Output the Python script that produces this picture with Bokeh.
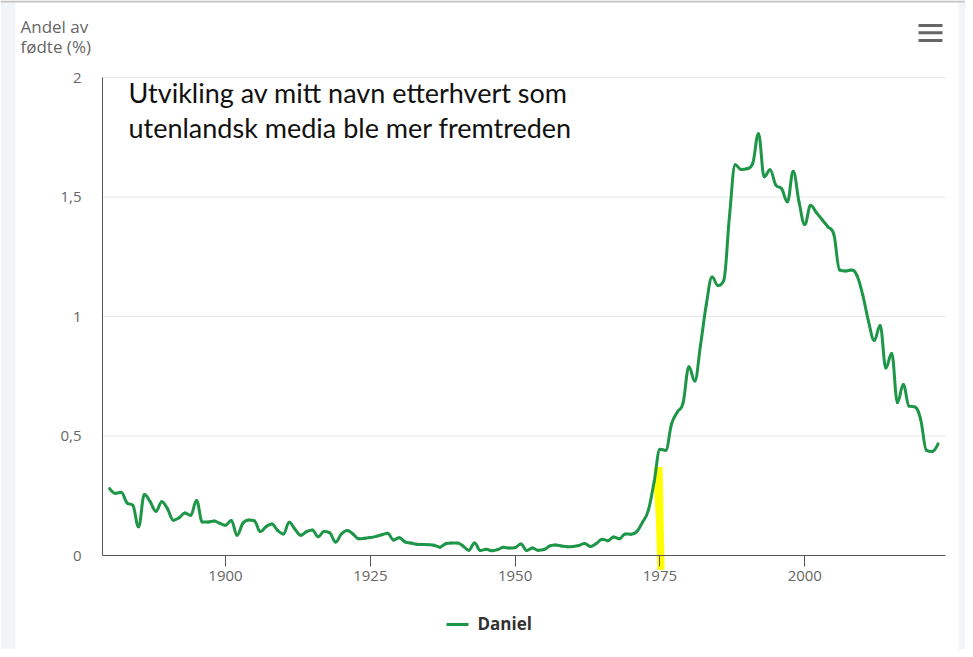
import numpy as np
from bokeh.plotting import figure
from bokeh.models import (FixedTicker, Label, PolyAnnotation, BoxAnnotation, Range1d,
                          LinearAxis)
from bokeh.embed import file_html
from bokeh.resources import INLINE

# ---------------- data ----------------
years = list(range(1880, 2024))
share_daniel = [
    0.28, 0.26, 0.265, 0.22, 0.21, 0.12, 0.255, 0.225, 0.185, 0.225,      # 1880-1889
    0.195, 0.148, 0.158, 0.178, 0.168, 0.23, 0.14, 0.14, 0.144, 0.135,    # 1890-1899
    0.127, 0.146, 0.085, 0.135, 0.149, 0.145, 0.10, 0.12, 0.132, 0.105,   # 1900-1909
    0.09, 0.139, 0.11, 0.085, 0.10, 0.107, 0.078, 0.10, 0.095, 0.056,     # 1910-1919
    0.09, 0.105, 0.09, 0.07, 0.072, 0.075, 0.08, 0.087, 0.093, 0.065,     # 1920-1929
    0.074, 0.057, 0.052, 0.047, 0.046, 0.045, 0.043, 0.035, 0.049, 0.052, # 1930-1939
    0.052, 0.04, 0.022, 0.052, 0.021, 0.026, 0.02, 0.025, 0.034, 0.031,   # 1940-1949
    0.033, 0.048, 0.021, 0.031, 0.022, 0.025, 0.04, 0.044, 0.04, 0.037,   # 1950-1959
    0.038, 0.042, 0.05, 0.038, 0.05, 0.068, 0.062, 0.077, 0.07, 0.09,     # 1960-1969
    0.089, 0.10, 0.14, 0.19, 0.31, 0.445, 0.44, 0.55, 0.60, 0.64,         # 1970-1979
    0.79, 0.73, 0.88, 1.05, 1.165, 1.13, 1.15, 1.42, 1.635, 1.615,        # 1980-1989
    1.618, 1.64, 1.765, 1.585, 1.614, 1.55, 1.535, 1.48, 1.608, 1.48,     # 1990-1999
    1.385, 1.465, 1.435, 1.405, 1.375, 1.345, 1.195, 1.19, 1.195, 1.172,  # 2000-2009
    1.09, 0.98, 0.90, 0.962, 0.785, 0.845, 0.64, 0.715, 0.625, 0.622,     # 2010-2019
    0.57, 0.44, 0.435, 0.467,                                             # 2020-2023
]
series_name = "Daniel"

x_axis_min, x_axis_max = 1878.77, 2024.29
y_axis_min, y_axis_max = 0, 2
x_ticks = [1900, 1925, 1950, 1975, 2000]
y_ticks = [0, 0.5, 1, 1.5, 2]
y_tick_labels = ["0", "0,5", "1", "1,5", "2"]

# hand-drawn yellow highlight near 1975
highlight_x = [1973.95, 1975.45, 1975.6, 1975.8, 1974.55, 1974.3, 1973.95]
highlight_y = [0.37, 0.37, 0.20, -0.06, -0.06, 0.15, 0.30]

title_lines = ["Utvikling av mitt navn etterhvert som",
               "utenlandsk media ble mer fremtreden"]
y_title_lines = ["Andel av", "fødte (%)"]

# ------------- spline rendering (Highcharts-style smoothing) -------------
def spline_segments(xs, ys, smoothing=1.5):
    x = np.asarray(xs, float)
    y = np.asarray(ys, float)
    n = len(x)
    lcx, lcy = x.copy(), y.copy()
    rcx, rcy = x.copy(), y.copy()
    d = smoothing + 1
    for i in range(1, n - 1):
        lx = (smoothing * x[i] + x[i - 1]) / d
        ly = (smoothing * y[i] + y[i - 1]) / d
        rx = (smoothing * x[i] + x[i + 1]) / d
        ry = (smoothing * y[i] + y[i + 1]) / d
        if rx != lx:
            corr = (ry - ly) * (rx - x[i]) / (rx - lx) + y[i] - ry
            ly += corr
            ry += corr
        if ly > max(y[i - 1], y[i]):
            ly = max(y[i - 1], y[i]); ry = 2 * y[i] - ly
        elif ly < min(y[i - 1], y[i]):
            ly = min(y[i - 1], y[i]); ry = 2 * y[i] - ly
        if ry > max(y[i + 1], y[i]):
            ry = max(y[i + 1], y[i]); ly = 2 * y[i] - ry
        elif ry < min(y[i + 1], y[i]):
            ry = min(y[i + 1], y[i]); ly = 2 * y[i] - ry
        lcx[i], lcy[i], rcx[i], rcy[i] = lx, ly, rx, ry
    return dict(x0=x[:-1], y0=y[:-1], x1=x[1:], y1=y[1:],
                cx0=rcx[:-1], cy0=rcy[:-1], cx1=lcx[1:], cy1=lcy[1:])

# ---------------- layout geometry (page pixels) ----------------
W, H = 965, 649
PL, PR, PT, PB = 102, 945, 77, 555      # plot-area edges
xs_ = (x_axis_max - x_axis_min) / (PR - PL)
ys_ = (y_axis_max - y_axis_min) / (PB - PT)
x_range = Range1d(x_axis_min - PL * xs_, x_axis_max + (W - PR) * xs_)
y_range = Range1d(y_axis_min - (H - PB) * ys_, y_axis_max + PT * ys_)

p = figure(width=W, height=H, output_backend="svg", toolbar_location=None,
           x_range=x_range, y_range=y_range,
           x_axis_location=None, y_axis_location=None,
           min_border=0, background_fill_color="white",
           border_fill_color="white", outline_line_color=None)
p.grid.visible = False

FONT = "Open Sans"
GREEN = "#1e9648"
AXIS = "#555555"

xaxis = LinearAxis(fixed_location=y_axis_min, bounds=(x_axis_min, x_axis_max),
                   ticker=FixedTicker(ticks=x_ticks))
yaxis = LinearAxis(fixed_location=x_axis_min, bounds=(y_axis_min, y_axis_max),
                   ticker=FixedTicker(ticks=y_ticks),
                   major_label_overrides={t: l for t, l in zip(y_ticks, y_tick_labels)})
for ax in (xaxis, yaxis):
    ax.axis_line_color = AXIS
    ax.axis_line_width = 1
    ax.major_tick_line_color = AXIS
    ax.minor_tick_line_color = None
    ax.major_label_text_font = FONT
    ax.major_label_text_font_size = "15px"
    ax.major_label_text_color = "#666666"
    ax.major_tick_in = 0
xaxis.major_tick_out = 11
xaxis.major_label_standoff = 4
yaxis.major_tick_out = 0
yaxis.major_label_standoff = 21
p.add_layout(xaxis, "below")
p.add_layout(yaxis, "left")

# horizontal grid lines at the y ticks (plot-area width only)
grid_y = [t for t in y_ticks if t != y_axis_min]
p.segment(x0=[x_axis_min] * len(grid_y), y0=grid_y,
          x1=[x_axis_max] * len(grid_y), y1=grid_y,
          line_color="#e6e6e6", line_width=1, level="underlay")

hl = PolyAnnotation(xs=highlight_x, ys=highlight_y, fill_color="#ffff00",
                    fill_alpha=1.0, line_color=None, level="underlay")
p.add_layout(hl)

seg = spline_segments(years, share_daniel)
r = p.bezier(x0=seg["x0"], y0=seg["y0"], x1=seg["x1"], y1=seg["y1"],
             cx0=seg["cx0"], cy0=seg["cy0"], cx1=seg["cx1"], cy1=seg["cy1"],
             line_color=GREEN, line_width=3, line_cap="round")

# helper: page pixel -> screen units (canvas bottom-left, y up)
def sx(px):
    return px

def sy(py):
    return H - py

def bar(x0, x1, yc, h, color, level="overlay"):
    p.add_layout(BoxAnnotation(left=sx(x0), right=sx(x1), top=sy(yc - h / 2),
                               bottom=sy(yc + h / 2),
                               left_units="screen", right_units="screen",
                               top_units="screen", bottom_units="screen",
                               fill_color=color, fill_alpha=1, line_color=None,
                               level=level))

# screenshot frame decoration
bar(0, 15, H / 2, H, "#f1f5f8", "underlay")
bar(958, W, H / 2, H, "#f1f5f8", "underlay")
bar(0, W, 1, 2, "#c4c4c4", "underlay")

for i, t in enumerate(title_lines):
    p.add_layout(Label(x=sx(128), y=sy(92 + 35 * i), x_units="screen", y_units="screen",
                       text=t, text_font="Lato", text_font_size="27px",
                       text_color="#111111", text_baseline="alphabetic"))
for i, t in enumerate(y_title_lines):
    p.add_layout(Label(x=sx(20), y=sy(26 + 20 * i), x_units="screen", y_units="screen",
                       text=t, text_font=FONT, text_font_size="17px",
                       text_color="#666666", text_baseline="alphabetic"))

# legend (symbol + label)
bar(446, 468, 624, 3, GREEN)
p.add_layout(Label(x=sx(477), y=sy(623), x_units="screen", y_units="screen",
                   text=series_name, text_font=FONT, text_font_size="17px",
                   text_font_style="bold", text_color="#333333",
                   text_baseline="alphabetic"))

# menu icon
for yc in (25, 32.3, 40):
    bar(918, 942, yc, 3, "#666666")

open("out.html", "w").write(file_html(p, INLINE))
